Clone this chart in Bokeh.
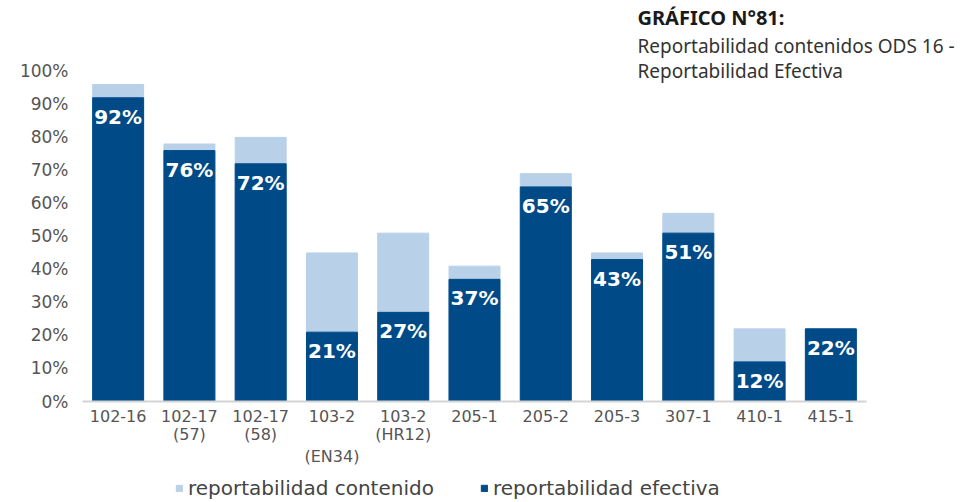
from bokeh.plotting import figure
from bokeh.layouts import column
from bokeh.models import (Range1d, Label, Legend, LegendItem, Title, LinearAxis,
                          FixedTicker, PrintfTickFormatter, ColumnDataSource)
from bokeh.core.properties import value
from bokeh.embed import file_html
from bokeh.resources import INLINE

# GRI disclosure codes and reportability percentages
codes = ["102-16", "102-17 (57)", "102-17 (58)", "103-2 (EN34)", "103-2 (HR12)",
         "205-1", "205-2", "205-3", "307-1", "410-1", "415-1"]
tick_line1 = ["102-16", "102-17", "102-17", "103-2", "103-2",
              "205-1", "205-2", "205-3", "307-1", "410-1", "415-1"]
tick_line2 = ["", "(57)", "(58)", "", "(HR12)", "", "", "", "", "", ""]
tick_line3 = ["", "", "", "(EN34)", "", "", "", "", "", "", ""]
contenido = [96, 78, 80, 45, 51, 41, 69, 45, 57, 22, 22]
efectiva = [92, 76, 72, 21, 27, 37, 65, 43, 51, 12, 22]

LIGHT = "#b8d0e8"
DARK = "#004b87"
FONT = "DejaVu Sans"
HEAD_FONT = "Noto Sans"

pos = list(range(len(codes)))
src = ColumnDataSource(dict(
    pos=pos, code=codes, contenido=contenido, efectiva=efectiva,
    lbl=[f"{v}%" for v in efectiva],
))

p = figure(width=970, height=470, output_backend="svg", toolbar_location=None,
           x_range=Range1d(-0.5, len(codes) - 0.5), y_range=Range1d(0, 103.9),
           min_border_left=82, min_border_right=104, min_border_top=58,
           min_border_bottom=69)
p.outline_line_color = None
p.grid.grid_line_color = None

r_c = p.vbar(x="pos", top="contenido", width=0.715, source=src, color=LIGHT)
r_e = p.vbar(x="pos", top="efectiva", width=0.715, source=src, color=DARK)

p.text(x="pos", y="efectiva", text="lbl", source=src, text_color="white",
       text_font=value(FONT), text_font_style="bold", text_font_size="20px",
       text_align="center", text_baseline="middle", y_offset=19)

# y axis
p.yaxis.ticker = FixedTicker(ticks=list(range(0, 101, 10)))
p.yaxis.formatter = PrintfTickFormatter(format="%d%%")
p.yaxis.axis_line_color = None
p.yaxis.major_tick_line_color = None
p.yaxis.minor_tick_line_color = None
p.yaxis.major_tick_out = 0
p.yaxis.major_label_standoff = 14
p.yaxis.major_label_text_font = FONT
p.yaxis.major_label_text_font_size = "17px"
p.yaxis.major_label_text_color = "#555555"

# x axis, one axis per text line of the category labels
def style_x(ax, lines, standoff):
    ticks = [i for i, t in zip(pos, lines) if t]
    ax.ticker = FixedTicker(ticks=ticks)
    ax.major_label_overrides = {i: lines[i] for i in ticks}
    ax.major_tick_line_color = None
    ax.minor_tick_line_color = None
    ax.major_tick_out = 0
    ax.major_tick_in = 0
    ax.major_label_standoff = standoff
    ax.major_label_text_font = FONT
    ax.major_label_text_font_size = "16px"
    ax.major_label_text_color = "#555555"

xa = p.xaxis[0]
style_x(xa, tick_line1, 8)
xa.axis_line_color = "#d4d4d4"
xa.axis_line_width = 2

for lines in (tick_line2, tick_line3):
    ax = LinearAxis()
    style_x(ax, lines, 0)
    ax.axis_line_color = None
    p.add_layout(ax, "below")

# chart heading
for txt, style, size, col in (("Reportabilidad contenidos ODS 16 -", "normal", "19px", "#333333"),
                              ("GRÁFICO N°81:", "bold", "20px", "#1a1a1a")):
    p.add_layout(Title(text=txt, align="left", offset=555, standoff=0,
                       text_font=HEAD_FONT, text_font_style=style,
                       text_font_size=size, text_color=col), "above")
p.add_layout(Label(x=555, y=401 - 70, x_units="screen", y_units="screen",
                   text="Reportabilidad Efectiva", text_font=HEAD_FONT,
                   text_font_size="19px", text_color="#333333",
                   text_baseline="alphabetic"))

# legend strip under the chart
leg = figure(width=970, height=32, output_backend="svg", toolbar_location=None,
             x_range=Range1d(0, 1), y_range=Range1d(0, 1),
             min_border=0, x_axis_type=None, y_axis_type=None)
leg.outline_line_color = None
leg.grid.grid_line_color = None
# zero-height swatch bars, kept outside the visible range
swatch = ColumnDataSource(dict(x=[5], top=[0]))
l_c = leg.vbar(x="x", top="top", width=1, source=swatch, color=LIGHT)
l_e = leg.vbar(x="x", top="top", width=1, source=swatch, color=DARK)
legend = Legend(items=[LegendItem(label="reportabilidad contenido", renderers=[l_c]),
                       LegendItem(label="reportabilidad efectiva", renderers=[l_e])],
                orientation="horizontal", location=(93, 2),
                glyph_width=8, glyph_height=8, label_standoff=5, spacing=46,
                label_text_font=FONT, label_text_font_size="20px",
                label_text_color="#444444", background_fill_alpha=0,
                border_line_color=None, padding=0, margin=0)
leg.add_layout(legend, "center")

layout = column(p, leg, spacing=0)
open("out.html", "w").write(file_html(layout, INLINE))
